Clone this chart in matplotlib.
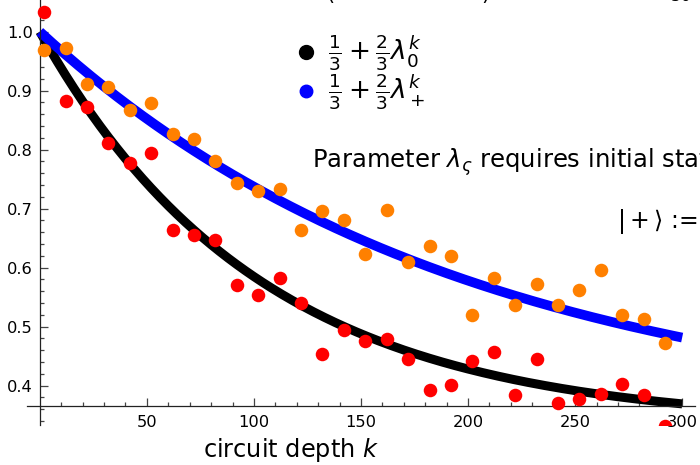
import matplotlib
matplotlib.use("Agg")
import matplotlib.pyplot as plt
import numpy as np
from matplotlib.lines import Line2D

plt.rcParams['font.family'] = ['DejaVu Sans']
plt.rcParams['mathtext.fontset'] = 'dejavusans'

# circuit depths of the measured points
depth = [2, 12, 22, 32, 42, 52, 62, 72, 82, 92, 102, 112, 122, 132, 142,
         152, 162, 172, 182, 192, 202, 212, 222, 232, 242, 252, 262, 272, 282, 292]
# measured survival, initial state |0>
red_vals = [1.033, 0.883, 0.872, 0.812, 0.777, 0.795, 0.664, 0.655, 0.647, 0.570,
            0.554, 0.583, 0.540, 0.454, 0.494, 0.475, 0.479, 0.446, 0.392, 0.401,
            0.441, 0.457, 0.384, 0.445, 0.370, 0.377, 0.386, 0.402, 0.384, 0.332]
# measured survival, initial state |+>
orange_vals = [0.969, 0.972, 0.911, 0.907, 0.867, 0.879, 0.826, 0.818, 0.781, 0.743,
               0.730, 0.733, 0.664, 0.696, 0.681, 0.624, 0.697, 0.610, 0.637, 0.620,
               0.520, 0.582, 0.536, 0.573, 0.537, 0.563, 0.596, 0.519, 0.513, 0.472]
# fitted decay parameters
lam0 = 0.9903
lamp = 0.995

kk = np.linspace(0, 300, 301)

fig = plt.figure(figsize=(7, 4.65), dpi=100)
ax = fig.add_axes([27 / 700, (465 - 425.2) / 465, 668 / 700, 425.2 / 465])

ax.plot(kk, 1 / 3 + 2 / 3 * lam0 ** kk, color="black", lw=6.5, solid_capstyle="butt", zorder=2)
ax.plot(kk, 1 / 3 + 2 / 3 * lamp ** kk, color="#0000ff", lw=7, solid_capstyle="butt", zorder=2)
ax.scatter(depth, red_vals, s=95, color="#ff0000", linewidths=0, zorder=3)
ax.scatter(depth, orange_vals, s=95, color="#ff8000", linewidths=0, zorder=3)

ax.set_xlim(-6, 306)
ax.set_ylim(0.333, 1.0537)

for s in ["top", "right"]:
    ax.spines[s].set_visible(False)
ax.spines["left"].set_position(("data", 0))
ax.spines["bottom"].set_position(("data", 0.3656))
for s in ["left", "bottom"]:
    ax.spines[s].set_linewidth(0.9)
    ax.spines[s].set_color("#222222")

ax.set_xticks([50, 100, 150, 200, 250, 300])
ax.set_xticks(np.arange(10, 301, 10), minor=True)
ax.set_yticks([0.4, 0.5, 0.6, 0.7, 0.8, 0.9, 1.0])
ax.set_yticklabels(["0.4", "0.5", "0.6", "0.7", "0.8", "0.9", "1.0"])
ax.set_yticks(np.arange(0.34, 1.05, 0.02), minor=True)
ax.tick_params(which="both", direction="in", width=0.9, color="#444444")
ax.tick_params(which="major", length=5.5, labelsize=11.7)
ax.tick_params(which="minor", length=3)
ax.tick_params(axis="x", pad=6.5)
ax.tick_params(axis="y", pad=5)

fig.text(291 / 700, 1 - 457 / 465, r"circuit depth $k$", fontsize=17.3,
         ha="center", va="baseline")

handles = [Line2D([], [], marker="o", ls="", color="black", ms=10),
           Line2D([], [], marker="o", ls="", color="#0000ff", ms=9)]
labels = [r"$\frac{1}{3}+\frac{2}{3}\lambda_0^k$", r"$\frac{1}{3}+\frac{2}{3}\lambda_+^k$"]
fig.legend(handles, labels, loc="upper left", bbox_to_anchor=(295 / 700, 1 - 33 / 465),
           frameon=False, fontsize=19, handlelength=0.8, handletextpad=0.45,
           labelspacing=-0.05, borderpad=0, borderaxespad=0)

fig.text(311.7 / 700, 1 - 168.3 / 465, r"Parameter $\lambda_\varsigma$ requires initial state",
         fontsize=17.5, va="baseline")
fig.text(698 / 700, 1 - 221.7 / 465, r"$|+\rangle$ :=", fontsize=17, va="center", ha="right")

# tails of text cut off at the top edge
fig.text(326.7 / 700, 1 - 4 / 465, "(", fontsize=15, va="bottom")
fig.text(481.7 / 700, 1 - 4 / 465, ")", fontsize=15, va="bottom")
fig.text(681.7 / 700, 1 - 5 / 465, "50", fontsize=12, va="bottom", ha="center")

fig.savefig("out.png", dpi=100)
